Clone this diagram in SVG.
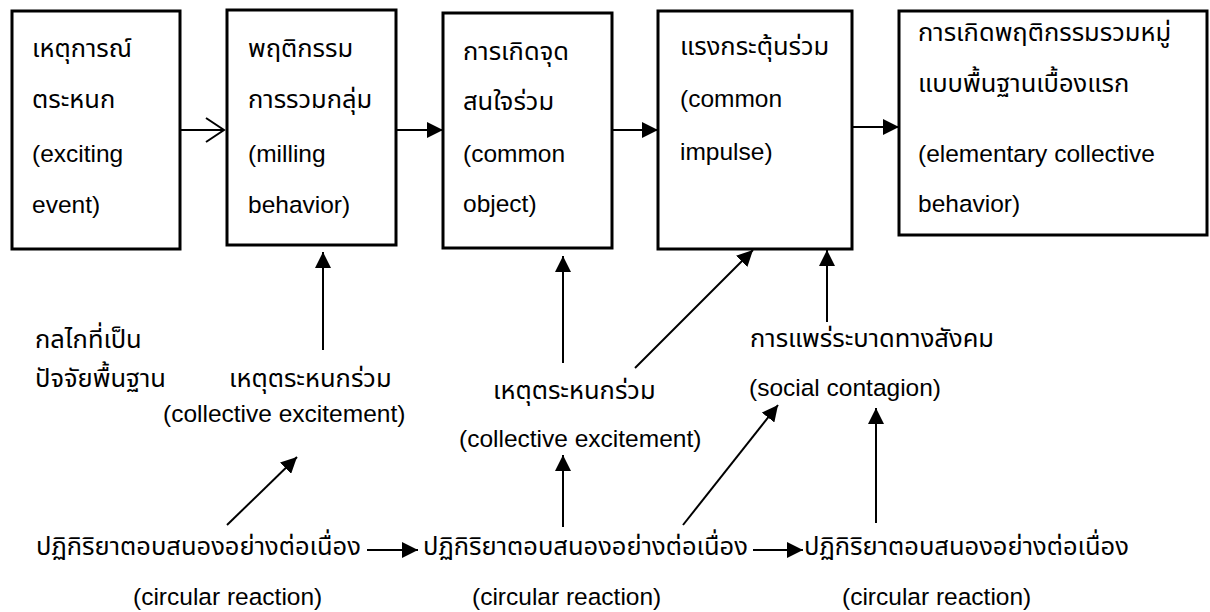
<svg xmlns="http://www.w3.org/2000/svg" width="1210" height="612" viewBox="0 0 1210 612">
<style>
.box{fill:#fff;stroke:#000;stroke-width:3}
.t{font-family:"Liberation Sans","Noto Sans Thai","Noto Sans",sans-serif;font-size:24.5px;fill:#000}
.th{font-size:25.5px}
.c{stroke:#000;stroke-width:2;fill:none}
.f{marker-end:url(#ah)}
</style>
<defs>
<marker id="ah" markerUnits="userSpaceOnUse" markerWidth="16" markerHeight="16" refX="16" refY="8" orient="auto" viewBox="0 0 16 16"><path d="M0,0 L16,8 L0,16 z" fill="#000"/></marker>
<marker id="oh" markerUnits="userSpaceOnUse" markerWidth="22" markerHeight="26" refX="20" refY="13" orient="auto" viewBox="0 0 22 26"><path d="M2,1 L20,13 L2,25" fill="none" stroke="#000" stroke-width="2"/></marker>
</defs>
<rect width="1210" height="612" fill="#fff"/>
<g id="n1"><rect class="box" x="12" y="11" width="168" height="238"/>
<text class="t th" x="32" y="57">เหตุการณ์</text><text class="t th" x="32" y="108">ตระหนก</text><text class="t" x="32" y="162">(exciting</text><text class="t" x="32" y="213">event)</text></g>
<g id="n2"><rect class="box" x="227" y="10" width="169" height="235"/>
<text class="t th" x="248" y="57">พฤติกรรม</text><text class="t th" x="248" y="108">การรวมกลุ่ม</text><text class="t" x="248" y="162">(milling</text><text class="t" x="248" y="213">behavior)</text></g>
<g id="n3"><rect class="box" x="443" y="13" width="169" height="235"/>
<text class="t th" x="463" y="60">การเกิดจุด</text><text class="t th" x="463" y="110">สนใจร่วม</text><text class="t" x="463" y="162">(common</text><text class="t" x="463" y="212">object)</text></g>
<g id="n4"><rect class="box" x="658" y="11" width="194" height="238"/>
<text class="t th" x="680" y="55">แรงกระตุ้นร่วม</text><text class="t" x="680" y="107">(common</text><text class="t" x="680" y="160">impulse)</text></g>
<g id="n5"><rect class="box" x="899" y="11" width="308" height="224"/>
<text class="t th" x="918" y="41">การเกิดพฤติกรรมรวมหมู่</text><text class="t th" x="918" y="92">แบบพื้นฐานเบื้องแรก</text><text class="t" x="918" y="162">(elementary collective</text><text class="t" x="918" y="212">behavior)</text></g>
<g id="labels">
<text class="t th" x="35" y="348">กลไกที่เป็น</text>
<text class="t th" x="35" y="387">ปัจจัยพื้นฐาน</text>
<text class="t th" x="229" y="387">เหตุตระหนกร่วม</text>
<text class="t" x="163" y="422">(collective excitement)</text>
<text class="t th" x="493" y="399">เหตุตระหนกร่วม</text>
<text class="t" x="459" y="447">(collective excitement)</text>
<text class="t th" x="750" y="347">การแพร่ระบาดทางสังคม</text>
<text class="t" x="749" y="396">(social contagion)</text>
<text class="t th" x="36" y="555">ปฏิกิริยาตอบสนองอย่างต่อเนื่อง</text>
<text class="t" x="133" y="605">(circular reaction)</text>
<text class="t th" x="423" y="555">ปฏิกิริยาตอบสนองอย่างต่อเนื่อง</text>
<text class="t" x="472" y="605">(circular reaction)</text>
<text class="t th" x="804" y="555">ปฏิกิริยาตอบสนองอย่างต่อเนื่อง</text>
<text class="t" x="842" y="605">(circular reaction)</text>
</g>
<g id="connectors">
<line class="c" x1="180" y1="130" x2="224" y2="130" marker-end="url(#oh)"/>
<line class="c f" x1="396" y1="130" x2="443" y2="130"/>
<line class="c f" x1="612" y1="130" x2="658" y2="130"/>
<line class="c f" x1="852" y1="127" x2="899" y2="127"/>
<line class="c f" x1="323" y1="350" x2="323" y2="252"/>
<line class="c f" x1="563" y1="363" x2="563" y2="256"/>
<line class="c f" x1="635" y1="368" x2="753" y2="250"/>
<line class="c f" x1="827" y1="322" x2="827" y2="250"/>
<line class="c f" x1="227" y1="525" x2="297" y2="457"/>
<line class="c f" x1="563" y1="527" x2="563" y2="455"/>
<line class="c f" x1="683" y1="525" x2="778" y2="405"/>
<line class="c f" x1="876" y1="523" x2="876" y2="408"/>
<line class="c f" x1="367" y1="550" x2="418" y2="550"/>
<line class="c f" x1="753" y1="550" x2="803" y2="550"/>
</g>
</svg>
